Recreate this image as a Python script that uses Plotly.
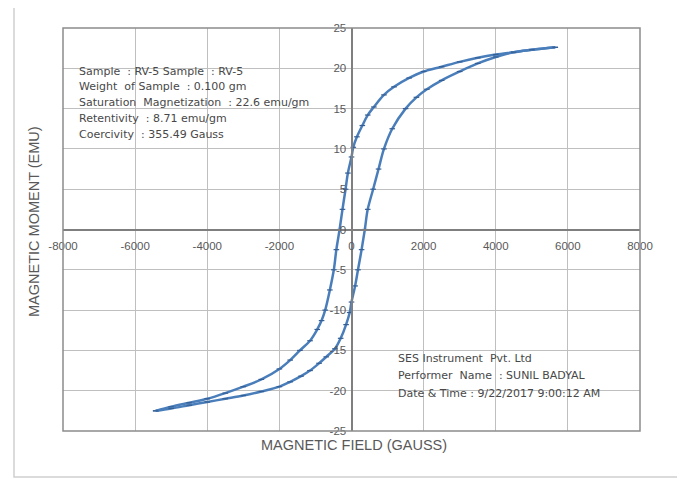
import plotly.graph_objects as go

# ---- data ----
field_desc = [5650, 5000, 4500, 4000, 3500, 3000, 2500, 2000, 1600, 1180, 900, 620, 450, 300, 150, 50, 0,
              -100, -165, -250, -330, -420, -490, -600, -730, -830, -950, -1150, -1430, -1700, -2000, -2500,
              -3000, -3500, -4000, -4500, -5000, -5430]
moment_desc = [22.6, 22.3, 22.0, 21.7, 21.3, 20.8, 20.2, 19.6, 18.8, 17.7, 16.7, 15.2, 14.2, 12.9, 11.5, 10.2, 9.0,
               7.0, 5.0, 2.5, 0.0, -2.5, -5.0, -7.5, -10.0, -11.3, -12.4, -13.8, -15.0, -16.2, -17.3, -18.6,
               -19.5, -20.3, -21.0, -21.5, -22.0, -22.5]
field_asc = [-5430, -5000, -4500, -4000, -3500, -3000, -2500, -2000, -1700, -1400, -1150, -900, -700, -460, -300,
             -150, -50, 0, 100, 180, 280, 370, 450, 600, 750, 900, 1130, 1500, 1800, 2090, 2500, 3000, 3500,
             4000, 4500, 5000, 5650]
moment_asc = [-22.5, -22.2, -21.8, -21.4, -21.0, -20.6, -20.1, -19.5, -18.9, -18.2, -17.5, -16.6, -15.8, -14.8,
              -13.5, -11.8, -10.3, -9.0, -7.0, -5.0, -2.5, 0.0, 2.5, 5.0, 7.5, 10.0, 12.5, 15.0, 16.4, 17.4,
              18.5, 19.6, 20.6, 21.4, 22.0, 22.3, 22.6]

x_ticks = [-8000, -6000, -4000, -2000, 0, 2000, 4000, 6000, 8000]
y_ticks = [-25, -20, -15, -10, -5, 0, 5, 10, 15, 20, 25]

info_lines = ["Sample  : RV-5 Sample  : RV-5",
              "Weight  of Sample  : 0.100 gm",
              "Saturation  Magnetization  : 22.6 emu/gm",
              "Retentivity  : 8.71 emu/gm",
              "Coercivity  : 355.49 Gauss"]
perf_lines = ["SES Instrument  Pvt. Ltd",
              "Performer  Name  : SUNIL BADYAL",
              "Date & Time : 9/22/2017 9:00:12 AM"]

# page is 685x479 but the html body has an 8px margin
OFF = 8
W, H = 685 - OFF, 479 - OFF
L, R, T, B = 63 - OFF, 45, 28 - OFF, 48
PW, PH = W - L - R, H - T - B


def px(xpage):
    return (xpage - OFF - L) / PW


def py(ypage):
    return (H - B - (ypage - OFF)) / PH


LINE = "#4a7ebb"
fig = go.Figure()
for fx, my in [(field_desc, moment_desc), (field_asc, moment_asc)]:
    fig.add_trace(go.Scatter(
        x=fx, y=my, mode="lines+markers",
        line=dict(color=LINE, width=2.5, shape="spline", smoothing=1.0),
        marker=dict(symbol="line-ew", size=4, line=dict(color="#355f94", width=1.2)),
        showlegend=False, hoverinfo="x+y"))

axis_font = dict(family="Liberation Sans, Arial, sans-serif", size=11.5, color="#595959")
fig.update_layout(
    width=W, height=H,
    margin=dict(l=L, r=R, t=T, b=B),
    paper_bgcolor="white", plot_bgcolor="white",
    xaxis=dict(range=[-8000, 8000], tickvals=x_ticks, ticktext=[str(v) for v in x_ticks],
               showgrid=True, gridcolor="#bfbfbf", gridwidth=1, zeroline=False,
               anchor="free", position=0.5, showline=True, linecolor="#7f7f7f", linewidth=2,
               ticks="", ticklabelstandoff=6, tickfont=axis_font),
    yaxis=dict(range=[-25, 25], tickvals=y_ticks, ticktext=[str(v) for v in y_ticks],
               showgrid=True, gridcolor="#bfbfbf", gridwidth=1, zeroline=False,
               anchor="free", position=0.5, showline=True, linecolor="#7f7f7f", linewidth=2,
               ticks="", ticklabelstandoff=2, tickfont=axis_font),
)

shapes = [
    dict(type="rect", xref="paper", yref="paper", x0=0, x1=1, y0=0, y1=1,
         line=dict(color="#8c8c8c", width=1.5), fillcolor="rgba(0,0,0,0)", layer="above"),
    dict(type="rect", xref="paper", yref="paper", x0=px(14), x1=px(678), y0=py(477), y1=py(7),
         line=dict(color="#d0d0d0", width=1.5), fillcolor="rgba(0,0,0,0)", layer="below"),
    dict(type="rect", xref="paper", yref="paper", x0=px(66), x1=px(330), y0=py(148), y1=py(55),
         line=dict(width=0), fillcolor="white", layer="between"),
    dict(type="rect", xref="paper", yref="paper", x0=px(387), x1=px(617), y0=py(415), y1=py(345),
         line=dict(width=0), fillcolor="white", layer="between"),
]
fig.update_layout(shapes=shapes)

text_font = dict(family="DejaVu Sans, sans-serif", size=11, color="#484848")
ann = []
for i, t in enumerate(info_lines):
    ann.append(dict(text=t.replace("  ", "&nbsp; "), xref="paper", yref="paper", x=px(77), y=py(71 + i * 15.8),
                    xanchor="left", yanchor="middle", showarrow=False, font=text_font))
for i, t in enumerate(perf_lines):
    ann.append(dict(text=t.replace("  ", "&nbsp; "), xref="paper", yref="paper", x=px(396), y=py(358 + i * 17.5),
                    xanchor="left", yanchor="middle", showarrow=False, font=text_font))
title_font = dict(family="Liberation Sans, Arial, sans-serif", size=14.5, color="#595959")
ann.append(dict(text="MAGNETIC FIELD (GAUSS)", xref="paper", yref="paper", x=px(354), y=py(445),
                xanchor="center", yanchor="middle", showarrow=False, font=title_font))
ann.append(dict(text="MAGNETIC MOMENT (EMU)", xref="paper", yref="paper", x=px(34), y=py(222),
                xanchor="center", yanchor="middle", showarrow=False, textangle=-90, font=title_font))
fig.update_layout(annotations=ann)

fig.write_html("out.html")
